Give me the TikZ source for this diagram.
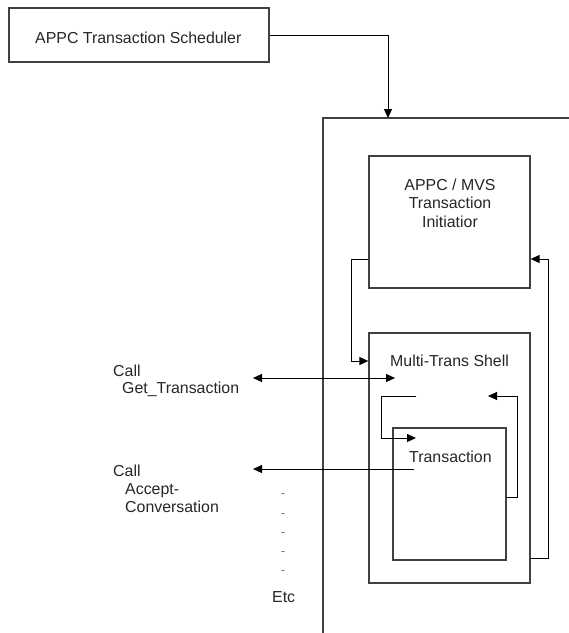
\documentclass[tikz,border=0pt]{standalone}
\usepackage{fontspec}
\setmainfont{Liberation Sans}
\usetikzlibrary{arrows.meta}
\begin{document}
\begin{tikzpicture}[x=1pt,y=-1pt,
  box/.style={draw=black!75,line width=1.3pt,inner sep=0pt,rectangle},
  conn/.style={draw=black,line width=1pt},
  tip/.style={-{Triangle[length=9pt,width=8pt]}},
  lbl/.style={inner sep=0pt,anchor=base west,text=black!85,font=\fontsize{15.9}{19}\selectfont},
  clbl/.style={inner sep=0pt,anchor=base,text=black!85,font=\fontsize{15.9}{19}\selectfont},
  dotm/.style={inner sep=0pt,text=black!55,font=\fontsize{13}{13}\selectfont}]
\useasboundingbox (0,0) rectangle (569,633);
% boxes
\node[box,minimum width=260pt,minimum height=54pt] (sched) at (139,35) {};
\node[box,minimum width=161pt,minimum height=132pt] (init) at (449.5,222) {};
\node[box,minimum width=161pt,minimum height=250pt] (shell) at (449.5,458) {};
\node[box,minimum width=113pt,minimum height=132pt] (trans) at (449.5,494) {};
% outer open frame
\coordinate (outerBL) at (323,633);
\coordinate (outerTL) at (323,118);
\coordinate (outerTR) at (575,118);
\draw[black!75,line width=1.3pt] (outerBL) -- (outerTL) -- (outerTR);
\coordinate (outerIn) at (388,118);
% texts
\node[lbl] (tSched) at (35,43) {APPC Transaction Scheduler};
\node[clbl] (tInit1) at (450,190) {APPC / MVS};
\node[clbl] (tInit2) at (450,208.5) {Transaction};
\node[clbl] (tInit3) at (450,227) {Initiatior};
\node[lbl] (tShell) at (390,366) {Multi-Trans Shell};
\node[lbl] (tTrans) at (409,462) {Transaction};
\node[lbl] (tCall1) at (113,376) {Call};
\node[lbl] (tGet) at (122,393) {Get\_Transaction};
\node[lbl] (tCall2) at (113,476) {Call};
\node[lbl] (tAcc1) at (125,494) {Accept-};
\node[lbl] (tAcc2) at (125,512) {Conversation};
\node[dotm] (d1) at (283,496) {-};
\node[dotm] (d2) at (283,516) {-};
\node[dotm] (d3) at (283,535) {-};
\node[dotm] (d4) at (283,554) {-};
\node[dotm] (d5) at (283,573) {-};
\node[lbl] (tEtc) at (272,602) {Etc};
% connectors
\draw[conn,tip] (sched.east) -| (outerIn);
\draw[conn,tip] (init.west |- 0,259) -- (351,259) |- (shell.west |- 0,361);
\draw[conn,tip] (shell.east |- 0,558) -- (548,558) |- (init.east |- 0,259);
\coordinate (getL) at (253,378);
\coordinate (getR) at (395,378);
\draw[conn,{Triangle[length=9pt,width=8pt]}-{Triangle[length=9pt,width=8pt]}] (getL) -- (getR);
\coordinate (accR) at (414,469);
\coordinate (accL) at (253,469);
\draw[conn,tip] (accR) -- (accL);
\coordinate (loopA) at (416,396);
\coordinate (loopB) at (416,438);
\draw[conn,tip] (loopA) -- (381,396) |- (loopB);
\coordinate (loopC) at (488,396);
\draw[conn,tip] (trans.east |- 0,497) -- (517,497) |- (loopC);
\end{tikzpicture}
\end{document}
